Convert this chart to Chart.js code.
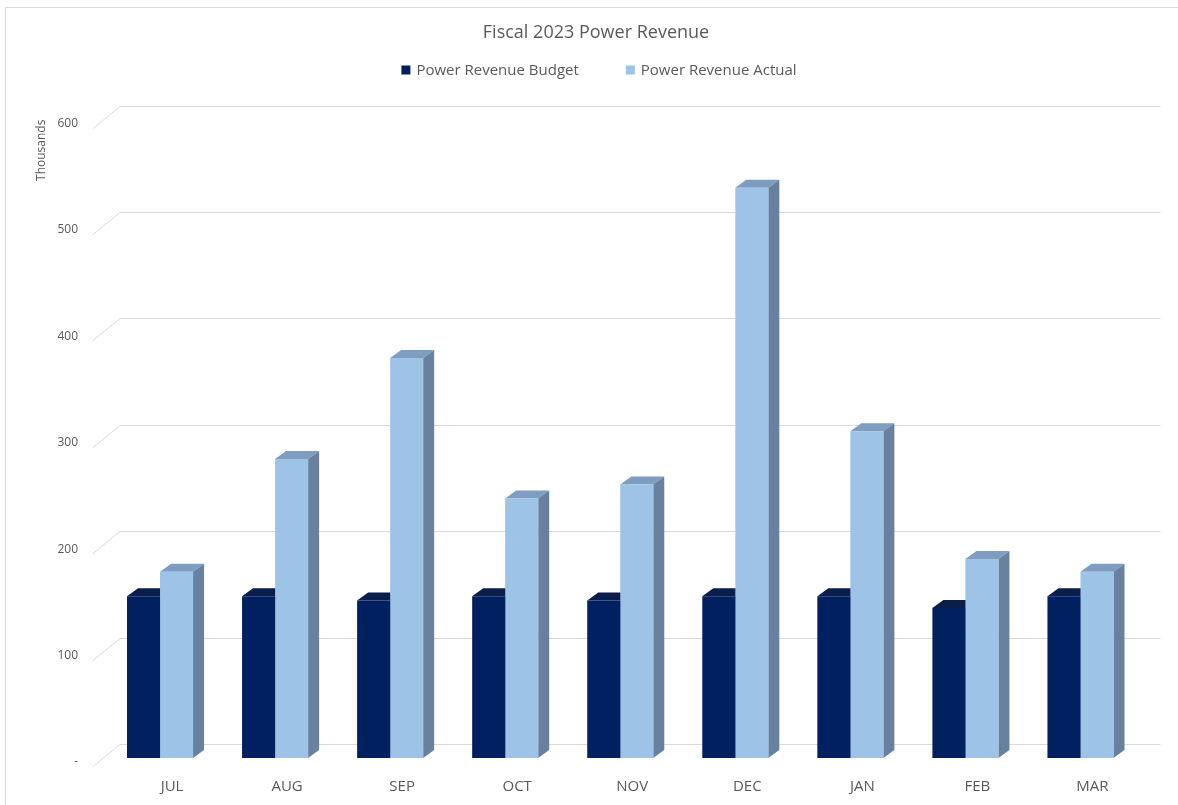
<!DOCTYPE html>
<html>
<head>
<meta charset="utf-8">
<title>Fiscal 2023 Power Revenue</title>
<script src="https://cdn.jsdelivr.net/npm/chart.js@4"></script>
<style>
  html, body { margin: 0; padding: 0; background: #fff; overflow: hidden; }
  #wrap { position: relative; width: 1178px; height: 805px; }
  #frame { position: absolute; left: 5px; top: 7px; width: 1200px; height: 900px; border: 1px solid #d9d9d9; }
  #plot { position: absolute; left: 0; top: 0; }
</style>
</head>
<body>
<div id="wrap">
  <div id="frame"></div>
  <canvas id="plot" width="1178" height="805"></canvas>
</div>
<script>
// values in thousands
var months = ['JUL', 'AUG', 'SEP', 'OCT', 'NOV', 'DEC', 'JAN', 'FEB', 'MAR'];
var budget = [152, 152, 148, 152, 148, 152, 152, 141, 152];
var actual = [175, 281, 376, 244, 257, 536, 307, 187, 175];
var yTicks = [0, 100, 200, 300, 400, 500, 600];

var frontColors = ['#002060', '#9dc3e6'];
var topColors = ['#0b1d4a', '#7f9cc1'];
var sideColors = ['#0a1a40', '#6881a0'];
var depthX = 11, depthY = -8;

// back wall gridlines + the little diagonal from the labels
var wallPlugin = {
    id: 'wall',
    beforeDatasetsDraw: function (chart) {
        var ctx = chart.ctx;
        var area = chart.chartArea;
        var y = chart.scales.y;
        ctx.save();
        ctx.strokeStyle = '#d9d9d9';
        ctx.lineWidth = 1;
        yTicks.forEach(function (v) {
            var p = Math.round(y.getPixelForValue(v)) + 0.5;
            ctx.beginPath();
            ctx.moveTo(area.left - 9.5, p + 8);
            ctx.lineTo(area.left + 17.5, p - 14);
            ctx.lineTo(area.right + 22.5, p - 14);
            ctx.stroke();
        });

        // top and side faces of the bars
        chart.data.datasets.forEach(function (ds, di) {
            var meta = chart.getDatasetMeta(di);
            meta.data.forEach(function (bar) {
                var l = bar.x - bar.width / 2, r = bar.x + bar.width / 2;
                var t = bar.y, b = bar.base;
                ctx.fillStyle = topColors[di];
                ctx.beginPath();
                ctx.moveTo(l, t);
                ctx.lineTo(l + depthX, t + depthY);
                ctx.lineTo(r + depthX, t + depthY);
                ctx.lineTo(r, t);
                ctx.closePath();
                ctx.fill();
                ctx.fillStyle = sideColors[di];
                ctx.beginPath();
                ctx.moveTo(r, t);
                ctx.lineTo(r + depthX, t + depthY);
                ctx.lineTo(r + depthX, b + depthY);
                ctx.lineTo(r, b);
                ctx.closePath();
                ctx.fill();
            });
        });
        ctx.restore();
    }
};

// legend drawn by hand, Excel puts a wide gap between the two entries
var legendPlugin = {
    id: 'xlLegend',
    afterDraw: function (chart) {
        var ctx = chart.ctx;
        ctx.save();
        ctx.font = '15px "Open Sans"';
        ctx.textBaseline = 'middle';
        var box = 9, gap = 6, between = 47;
        var items = chart.data.datasets.map(function (ds) {
            return { text: ds.label, color: ds.backgroundColor, w: box + gap + ctx.measureText(ds.label).width };
        });
        var total = items[0].w + between + items[1].w;
        var x = 599 - total / 2;
        var cy = 70;
        items.forEach(function (it) {
            ctx.fillStyle = it.color;
            ctx.fillRect(x, cy - box / 2, box, box);
            ctx.fillStyle = '#595959';
            ctx.fillText(it.text, x + box + gap, cy + 1);
            x += it.w + between;
        });
        ctx.restore();
    }
};

var ctx = document.getElementById('plot').getContext('2d');
var chart = new Chart(ctx, {
    type: 'bar',
    data: {
        labels: months,
        datasets: [{
            label: 'Power Revenue Budget',
            data: budget,
            backgroundColor: frontColors[0],
            borderWidth: 0
        }, {
            label: 'Power Revenue Actual',
            data: actual,
            backgroundColor: frontColors[1],
            borderWidth: 0
        }]
    },
    options: {
        responsive: false,
        animation: false,
        layout: { padding: { left: 54, right: 40, top: 0, bottom: 0 } },
        datasets: {
            bar: { barPercentage: 1, categoryPercentage: 0.574 }
        },
        plugins: {
            legend: { display: false },
            tooltip: { enabled: false },
            title: {
                display: true,
                text: 'Fiscal 2023 Power Revenue',
                color: '#595959',
                font: { family: 'Open Sans', size: 18, weight: 'normal' },
                padding: { top: 22, bottom: 76 }
            }
        },
        scales: {
            x: {
                afterFit: function (scale) { scale.height = 47; },
                grid: { display: false, drawTicks: false },
                border: { display: false },
                ticks: {
                    color: '#595959',
                    font: { family: 'Open Sans', size: 15 },
                    padding: 20,
                    labelOffset: 12
                }
            },
            y: {
                min: 0,
                max: 600,
                afterFit: function (scale) { scale.width = 48.5; },
                grid: { display: false, drawTicks: false },
                border: { display: false },
                ticks: {
                    stepSize: 100,
                    color: '#595959',
                    font: { family: 'Open Sans', size: 12 },
                    padding: 24.5,
                    labelOffset: 4,
                    callback: function (v) { return v === 0 ? '-' : v; }
                },
                title: {
                    display: true,
                    text: 'Thousands',
                    align: 'end',
                    color: '#595959',
                    font: { family: 'Open Sans', size: 12 },
                    padding: { top: -19.2, bottom: 0 }
                }
            }
        }
    },
    plugins: [wallPlugin, legendPlugin]
});
</script>
</body>
</html>
